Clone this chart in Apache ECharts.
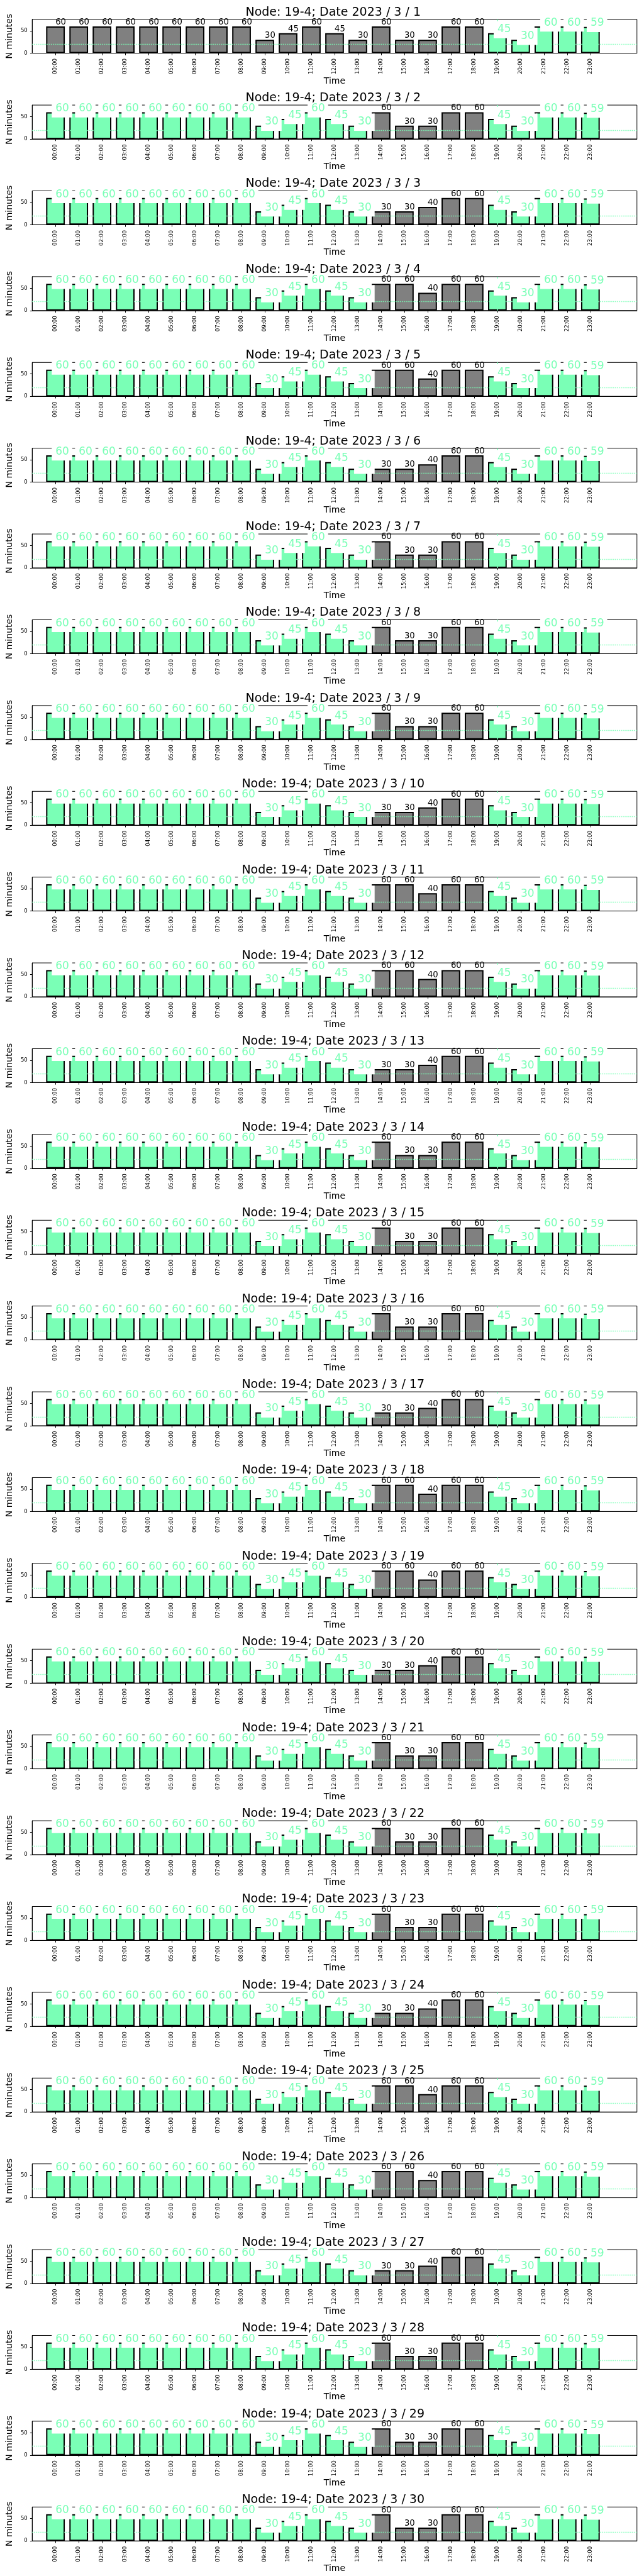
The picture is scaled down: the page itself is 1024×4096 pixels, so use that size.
<!DOCTYPE html>
<html>
<head>
<meta charset="utf-8">
<script src="https://cdn.jsdelivr.net/npm/echarts@6/dist/echarts.min.js"></script>
<style>
html,body{margin:0;padding:0;background:#fff;}
#chart{width:1024px;height:4096px;}
</style>
</head>
<body>
<div id="chart"></div>
<script>
// ---------- data ----------
const hours = ['00:00','01:00','02:00','03:00','04:00','05:00','06:00','07:00','08:00','09:00','10:00','11:00',
               '12:00','13:00','14:00','15:00','16:00','17:00','18:00','19:00','20:00','21:00','22:00','23:00'];
const days = [1,2,3,4,5,6,7,8,9,10,11,12,13,14,15,16,17,18,19,20,21,22,23,24,25,26,27,28,29,30];
// 00:00 - 13:00 (same every day)
const morningMinutes = [60,60,60,60,60,60,60,60,60,30,45,60,45,30];
// 14:00 - 18:00, one row per day
const afternoonMinutes = [
  [60,30,30,60,60], [60,30,30,60,60], [30,30,40,60,60], [60,60,40,60,60], [60,60,40,60,60],
  [30,30,40,60,60], [60,30,30,60,60], [60,30,30,60,60], [60,30,30,60,60], [30,30,40,60,60],
  [60,60,40,60,60], [60,60,40,60,60], [30,30,40,60,60], [60,30,30,60,60], [60,30,30,60,60],
  [60,30,30,60,60], [30,30,40,60,60], [60,60,40,60,60], [60,60,40,60,60], [30,30,40,60,60],
  [60,30,30,60,60], [60,30,30,60,60], [60,30,30,60,60], [30,30,40,60,60], [60,60,40,60,60],
  [60,60,40,60,60], [30,30,40,60,60], [60,30,30,60,60], [60,30,30,60,60], [60,30,30,60,60]
];
// 19:00 - 23:00 (same every day)
const eveningMinutes = [45,30,60,60,59];
// hours drawn as grey bars
const grayHoursFirstDay = [0,1,2,3,4,5,6,7,8,9,10,11,12,13,14,15,16,17,18];
const grayHoursOtherDays = [14,15,16,17,18];
const thresholdMinutes = 20;
const markerHour = 19;
const yTicks = [0, 50];
const yMax = 76;
const xMin = -1, xMax = 25;

// ---------- style / layout ----------
const S = 0.682;
const GREEN = '#7affb6';
const GRAY = '#808080';
const FONT = 'DejaVu Sans';
const pitch = 200 * S;
const axLeft = 68.4 * S, axRight = 1485 * S;
const gridTopOff = 45 * S, gridH = 79 * S;
const hourPx = (axRight - axLeft) / (xMax - xMin);
const barW = 0.8 * hourPx;
const hourIdx = hours.map((_, i) => i);

const titles = [], grids = [], xAxes = [], yAxes = [], series = [];

days.forEach((d, k) => {
  const vals = morningMinutes.concat(afternoonMinutes[k], eveningMinutes);
  const grays = k === 0 ? grayHoursFirstDay : grayHoursOtherDays;
  const top = k * pitch;

  titles.push({
    text: 'Node: 19-4; Date 2023 / 3 / ' + d,
    left: (axLeft + axRight) / 2, textAlign: 'center',
    top: top + 18.2 - 8, padding: 0,
    textStyle: {fontFamily: FONT, fontSize: 19, fontWeight: 'normal', color: '#000'}
  });
  grids.push({
    left: axLeft, right: 1024 - axRight, top: top + gridTopOff, height: gridH,
    show: true, borderColor: '#000', borderWidth: 1, backgroundColor: 'transparent'
  });
  xAxes.push({
    gridIndex: k, type: 'value', min: xMin, max: xMax,
    axisLine: {show: true, onZero: false, lineStyle: {color: '#000', width: 1}},
    axisTick: {show: true, length: 3.3, customValues: hourIdx, lineStyle: {color: '#000', width: 1}},
    axisLabel: {customValues: hourIdx, formatter: v => hours[v], rotate: 90, margin: 8.5,
                fontSize: 8.7, fontFamily: FONT, color: '#000'},
    splitLine: {show: false},
    name: 'Time', nameLocation: 'middle', nameGap: 35.5,
    nameTextStyle: {fontFamily: FONT, fontSize: 14, color: '#000'}
  });
  yAxes.push({
    gridIndex: k, type: 'value', min: 0, max: yMax,
    axisLine: {show: true, onZero: false, lineStyle: {color: '#000', width: 1}},
    axisTick: {show: true, length: 3.3, customValues: yTicks, lineStyle: {color: '#000', width: 1}},
    axisLabel: {customValues: yTicks, margin: 7.5, fontSize: 8.5, fontFamily: FONT, color: '#000'},
    splitLine: {show: false},
    name: 'N minutes', nameLocation: 'middle', nameGap: 24,
    nameTextStyle: {fontFamily: FONT, fontSize: 14, color: '#000'}
  });

  const isGray = i => grays.indexOf(i) >= 0;

  series.push({
    type: 'bar', xAxisIndex: k, yAxisIndex: k, z: 2,
    barWidth: barW, barGap: '-100%', silent: true,
    itemStyle: {borderColor: '#000', borderWidth: 2},
    data: vals.map((v, i) => ({value: [i, v], itemStyle: {color: isGray(i) ? GRAY : GREEN}})),
    markLine: {
      silent: true, symbol: 'none', z: 3, animation: false,
      label: {show: false},
      data: [
        {yAxis: thresholdMinutes, lineStyle: {type: [1.4, 1.6], color: GREEN, width: 1.4}},
        {xAxis: markerHour, lineStyle: {type: 'solid', color: GREEN, width: 1.6}}
      ]
    }
  });

  series.push({
    type: 'bar', xAxisIndex: k, yAxisIndex: k, z: 4,
    barWidth: barW, barGap: '-100%', silent: true,
    itemStyle: {color: 'rgba(0,0,0,0)', borderWidth: 0},
    data: vals.map((v, i) => ({
      value: [i, v],
      label: isGray(i) ? {
        show: true, position: [barW / 2, 0], align: 'left', verticalAlign: 'bottom',
        color: '#000', fontSize: 13.2, fontFamily: FONT,
        formatter: p => String(p.value[1])
      } : {
        show: true, position: [barW / 2 - 5.9, 8.2], align: 'left', verticalAlign: 'bottom',
        color: GREEN, fontSize: 17, lineHeight: 17, fontFamily: FONT,
        backgroundColor: '#ffffff', padding: [5, 5, 5.4, 6],
        formatter: p => String(p.value[1])
      }
    }))
  });
});

const chart = echarts.init(document.getElementById('chart'), null, {renderer: 'canvas'});
chart.setOption({
  animation: false,
  backgroundColor: '#ffffff',
  textStyle: {fontFamily: FONT},
  title: titles,
  grid: grids,
  xAxis: xAxes,
  yAxis: yAxes,
  series: series
});
</script>
</body>
</html>
